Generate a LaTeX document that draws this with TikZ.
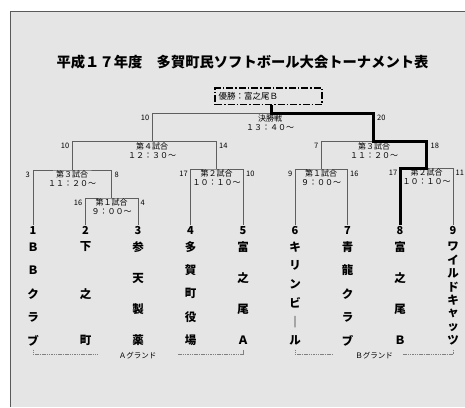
\documentclass[tikz,border=0pt]{standalone}
\usepackage{fontspec}
\setmainfont{Noto Sans CJK JP}

\definecolor{bggray}{RGB}{229,229,229}
\definecolor{framegray}{RGB}{90,90,90}
\definecolor{linegray}{RGB}{95,95,95}

\tikzset{
  bracket/.style={draw=linegray, line width=0.8pt},
  winline/.style={draw=black, line width=3pt},
  winbox/.style={draw=black, line width=1.2pt, dash pattern=on 7pt off 2pt on 1.5pt off 2pt,
    font=\fontsize{8.5}{9}\selectfont, text width=100pt, minimum height=16.5pt, inner xsep=3.5pt, align=left},
  title/.style={font=\fontsize{14.3}{15}\selectfont\bfseries, inner sep=0pt},
  score/.style={font=\fontsize{7.5}{8}\selectfont, inner sep=0.5pt},
  matchlabel/.style={font=\fontsize{8}{9}\selectfont, align=center, inner sep=0pt},
  teamnum/.style={font=\fontsize{11}{12}\selectfont\bfseries, inner sep=1pt},
  teamchar/.style={font=\fontsize{11.5}{12}\selectfont\bfseries, inner sep=0pt},
  ground/.style={font=\fontsize{7.5}{8}\selectfont, inner sep=0pt},
  groundline/.style={draw=gray, line width=0.6pt, dash pattern=on 1.5pt off 0.8pt}
}

\begin{document}
\begin{tikzpicture}[x=1pt, y=-1pt]
    \useasboundingbox (0,0) rectangle (465,407);

    % Draw the sheet
    \fill[white] (0,0) rectangle (465,407);
    \fill[bggray] (10.5,11.5) rectangle (465,407);
    \draw[framegray, line width=0.8pt] (10.5,407) -- (10.5,11.5) -- (465,11.5);

    % Title
    \node[title] (title) at (242.5,62.5) {平成１７年度　多賀町民ソフトボール大会トーナメント表};

    % Winner box
    \node[winbox] (win) at (268.5,96.3) {優勝：富之尾Ｂ};

    % Team numbers
    \node[teamnum] (n1) at (33,230.5) {1};
    \node[teamnum] (n2) at (85.5,230.5) {2};
    \node[teamnum] (n3) at (138,230.5) {3};
    \node[teamnum] (n4) at (190.5,230.5) {4};
    \node[teamnum] (n5) at (243,230.5) {5};
    \node[teamnum] (n6) at (295,230.5) {6};
    \node[teamnum] (n7) at (347.5,230.5) {7};
    \node[teamnum] (n8) at (400,230.5) {8};
    \node[teamnum] (n9) at (453,230.5) {9};

    % Team names, one character per line
    \foreach \ch [count=\k from 0] in {Ｂ,Ｂ,ク,ラ,ブ}
        \node[teamchar] (t1c\k) at (33,{247+\k*93.5/4}) {\ch};
    \foreach \ch [count=\k from 0] in {下,之,町}
        \node[teamchar] (t2c\k) at (85.5,{247+\k*93.5/2}) {\ch};
    \foreach \ch [count=\k from 0] in {参,天,製,薬}
        \node[teamchar] (t3c\k) at (138,{247+\k*93.5/3}) {\ch};
    \foreach \ch [count=\k from 0] in {多,賀,町,役,場}
        \node[teamchar] (t4c\k) at (190.5,{247+\k*93.5/4}) {\ch};
    \foreach \ch [count=\k from 0] in {富,之,尾,Ａ}
        \node[teamchar] (t5c\k) at (243,{247+\k*93.5/3}) {\ch};
    \foreach \ch [count=\k from 0] in {キ,リ,ン,ビ,｜,ル}
        \node[teamchar] (t6c\k) at (295,{247+\k*93.5/5}) {\ch};
    \foreach \ch [count=\k from 0] in {青,龍,ク,ラ,ブ}
        \node[teamchar] (t7c\k) at (347.5,{247+\k*93.5/4}) {\ch};
    \foreach \ch [count=\k from 0] in {富,之,尾,Ｂ}
        \node[teamchar] (t8c\k) at (400,{247+\k*93.5/3}) {\ch};
    \foreach \ch [count=\k from 0] in {ワ,イ,ル,ド,キ,ャ,ッ,ツ}
        \node[teamchar] (t9c\k) at (453,{247+\k*93.5/7}) {\ch};

    % Match points
    \coordinate (ga1) at (111.5,198);
    \coordinate (ga3) at (72,170);
    \coordinate (ga2) at (216.5,169);
    \coordinate (ga4) at (152,141.5);
    \coordinate (gb1) at (321,169);
    \coordinate (gb2) at (426.5,168);
    \coordinate (gb3) at (373.5,141.5);
    \coordinate (gf) at (271,113.5);

    % Bracket lines
    \draw[bracket] (n2.north) |- (ga1) -| (n3.north);
    \draw[bracket] (n1.north) |- (ga3) -| (ga1);
    \draw[bracket] (n4.north) |- (ga2) -| (n5.north);
    \draw[bracket] (ga3) |- (ga4) -| (ga2);
    \draw[bracket] (n6.north) |- (gb1) -| (n7.north);
    \draw[bracket] (n8.north) |- (gb2) -| (n9.north);
    \draw[bracket] (gb1) |- (gb3) -| (gb2);
    \draw[bracket] (ga4) |- (gf) -| (gb3);

    % Path of the winner
    \draw[winline] (gf |- win.south) -- (gf) -| (gb3) -| (gb2) -| (n8.north);

    % Match labels
    \node[matchlabel] (la1) at (111.5,207) {第１試合\\９：００～};
    \node[matchlabel] (la3) at (72,179) {第３試合\\１１：２０～};
    \node[matchlabel] (la2) at (216.5,178) {第２試合\\１０：１０～};
    \node[matchlabel] (la4) at (152,150.5) {第４試合\\１２：３０～};
    \node[matchlabel] (lf) at (270,123) {決勝戦\\１３：４０～};
    \node[matchlabel] (lb1) at (321,178) {第１試合\\９：００～};
    \node[matchlabel] (lb2) at (426.5,177) {第２試合\\１０：１０～};
    \node[matchlabel] (lb3) at (374,150.5) {第３試合\\１１：２０～};

    % Scores beside the lines
    \node[score, anchor=east] (sf1) at (150,118) {10};
    \node[score, anchor=west] (sf2) at (376.5,118) {20};
    \node[score, anchor=east] (s41) at (70,146) {10};
    \node[score, anchor=west] (s42) at (218.5,146) {14};
    \node[score, anchor=east] (sa31) at (30.5,174.5) {3};
    \node[score, anchor=west] (sa32) at (114,174.5) {8};
    \node[score, anchor=east] (sa11) at (83,202.5) {16};
    \node[score, anchor=west] (sa12) at (140,202.5) {4};
    \node[score, anchor=east] (sa21) at (188.5,173.5) {17};
    \node[score, anchor=west] (sa22) at (245.5,173.5) {10};
    \node[score, anchor=east] (sb11) at (293,173.5) {9};
    \node[score, anchor=west] (sb12) at (349.5,173.5) {16};
    \node[score, anchor=east] (sb21) at (398,172.5) {17};
    \node[score, anchor=west] (sb22) at (455,172.5) {11};
    \node[score, anchor=east] (sb31) at (319,146) {7};
    \node[score, anchor=west] (sb32) at (430,146) {18};

    % Grounds
    \node[ground] (gA) at (137.5,356) {Ａグランド};
    \node[ground] (gB) at (374,356) {Ｂグランド};
    \coordinate (gA1) at (33,349.5);
    \coordinate (gA2) at (98,354.3);
    \coordinate (gA3) at (178,354.3);
    \coordinate (gA4) at (243,349.5);
    \coordinate (gB1) at (295,349.5);
    \coordinate (gB2) at (333,354.3);
    \coordinate (gB3) at (403,354.3);
    \coordinate (gB4) at (453,349.5);
    \draw[groundline] (gA1) |- (gA2);
    \draw[groundline] (gA3) -| (gA4);
    \draw[groundline] (gB1) |- (gB2);
    \draw[groundline] (gB3) -| (gB4);
\end{tikzpicture}
\end{document}
